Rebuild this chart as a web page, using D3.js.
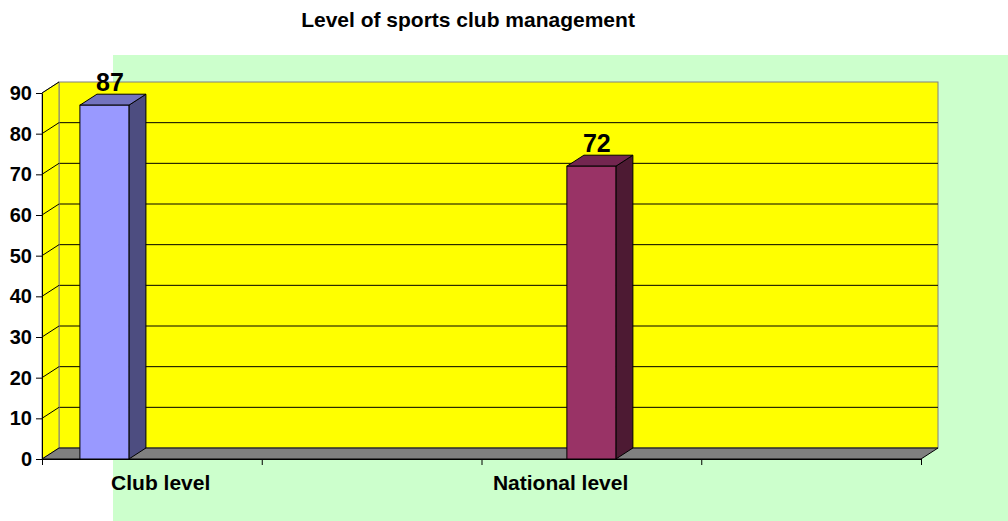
<!DOCTYPE html>
<html>
<head>
    <meta charset="utf-8">
    <title>Level of sports club management</title>
    <script type="text/javascript" src="https://cdnjs.cloudflare.com/ajax/libs/d3/7.8.5/d3.min.js"></script>
    <style>
        body { margin: 0; background: #fff; }
        svg text { font-family: "Liberation Sans", Arial, sans-serif; font-weight: bold; fill: #000; }
        .axis path, .axis line { stroke: #000; stroke-width: 1; }
    </style>
</head>
<body>
<script type="text/javascript">

    // data
    var categories = ["Club level", "National level"];
    var values = [87, 72];
    var barAt = [0.284, 2.5];      // where each bar stands on the category axis (4 tick steps)
    var labelAt = [0.54, 2.36];    // where the category names sit
    var yTicks = [0, 10, 20, 30, 40, 50, 60, 70, 80, 90];
    var xTicks = [0, 1, 2, 3, 4];

    var palette = [
        {front: "#9999FF", top: "#7373BF", side: "#4D4D80"},
        {front: "#993366", top: "#732650", side: "#4D1A33"}
    ];

    // note: "top" is taken by window.top, so plot edges get a prefix
    var width = 1008, height = 521,
        plotLeft = 42, plotRight = 921, plotBottom = 459, plotTop = 93,
        dx = 17, dy = 11,
        barW = 49;

    var x = d3.scaleLinear().domain([0, 4]).range([plotLeft, plotRight]);
    var y = d3.scaleLinear().domain([0, 90]).range([plotBottom, plotTop]);

    var svg = d3.select("body").append("svg")
        .attr("width", width)
        .attr("height", height);

    // green plot backdrop
    svg.append("rect")
        .attr("x", 113).attr("y", 55)
        .attr("width", width - 113).attr("height", height - 55)
        .attr("fill", "#CCFFCC");

    // back wall
    svg.append("rect")
        .attr("x", plotLeft + dx).attr("y", y(90) - dy)
        .attr("width", plotRight - plotLeft).attr("height", y(0) - y(90))
        .attr("fill", "#FFFF00")
        .attr("stroke", "#808080");

    // gridlines on back wall
    svg.selectAll("line.grid")
        .data(yTicks.filter(function(d){ return d > 0 && d < 90; }))
        .enter().append("line")
        .attr("class", "grid")
        .attr("x1", plotLeft + dx).attr("x2", plotRight + dx)
        .attr("y1", function(d){ return y(d) - dy; })
        .attr("y2", function(d){ return y(d) - dy; })
        .attr("stroke", "#000");

    // side wall
    svg.append("polygon")
        .attr("points", [[plotLeft, y(90)], [plotLeft + dx, y(90) - dy], [plotLeft + dx, y(0) - dy], [plotLeft, y(0)]].join(" "))
        .attr("fill", "#FFFF00")
        .attr("stroke", "#808080");

    svg.selectAll("line.side")
        .data(yTicks.filter(function(d){ return d > 0; }))
        .enter().append("line")
        .attr("class", "side")
        .attr("x1", plotLeft).attr("x2", plotLeft + dx)
        .attr("y1", function(d){ return y(d); })
        .attr("y2", function(d){ return y(d) - dy; })
        .attr("stroke", "#000");

    // floor
    svg.append("polygon")
        .attr("points", [[plotLeft, y(0)], [plotLeft + dx, y(0) - dy], [plotRight + dx, y(0) - dy], [plotRight, y(0)]].join(" "))
        .attr("fill", "#808080")
        .attr("stroke", "#000");

    // bars
    var bars = svg.selectAll("g.bar")
        .data(values)
        .enter().append("g")
        .attr("class", "bar");

    bars.append("polygon")
        .attr("points", function(d, i){
            var x1 = x(barAt[i]) + barW / 2;
            return [[x1, y(d)], [x1 + dx, y(d) - dy], [x1 + dx, y(0) - dy], [x1, y(0)]].join(" ");
        })
        .attr("fill", function(d, i){ return palette[i].side; })
        .attr("stroke", "#000");

    bars.append("polygon")
        .attr("points", function(d, i){
            var x0 = x(barAt[i]) - barW / 2, x1 = x0 + barW;
            return [[x0, y(d)], [x0 + dx, y(d) - dy], [x1 + dx, y(d) - dy], [x1, y(d)]].join(" ");
        })
        .attr("fill", function(d, i){ return palette[i].top; })
        .attr("stroke", "#000");

    bars.append("rect")
        .attr("x", function(d, i){ return x(barAt[i]) - barW / 2; })
        .attr("y", function(d){ return y(d); })
        .attr("width", barW)
        .attr("height", function(d){ return y(0) - y(d); })
        .attr("fill", function(d, i){ return palette[i].front; })
        .attr("stroke", "#000");

    bars.append("text")
        .attr("x", function(d, i){ return x(barAt[i]) + dx / 2 - 3; })
        .attr("y", function(d){ return y(d) - dy - 3; })
        .attr("text-anchor", "middle")
        .style("font-size", "25px")
        .text(function(d){ return d; });

    // axes
    var axisY = d3.axisLeft(y).tickValues(yTicks).tickSize(6).tickSizeOuter(0).tickPadding(4);
    svg.append("g")
        .attr("class", "axis")
        .attr("transform", "translate(" + plotLeft + ",0)")
        .call(axisY)
        .selectAll("text")
        .style("font-size", "20px");

    var axisX = d3.axisBottom(x).tickValues(xTicks).tickFormat("").tickSize(6).tickSizeOuter(0);
    svg.append("g")
        .attr("class", "axis")
        .attr("transform", "translate(0," + plotBottom + ")")
        .call(axisX);

    svg.selectAll("text.cat")
        .data(categories)
        .enter().append("text")
        .attr("class", "cat")
        .attr("x", function(d, i){ return x(labelAt[i]); })
        .attr("y", 490)
        .attr("text-anchor", "middle")
        .style("font-size", "21px")
        .text(function(d){ return d; });

    svg.append("text")
        .attr("x", 468).attr("y", 27)
        .attr("text-anchor", "middle")
        .style("font-size", "21px")
        .text("Level of sports club management");

</script>
</body>
</html>
